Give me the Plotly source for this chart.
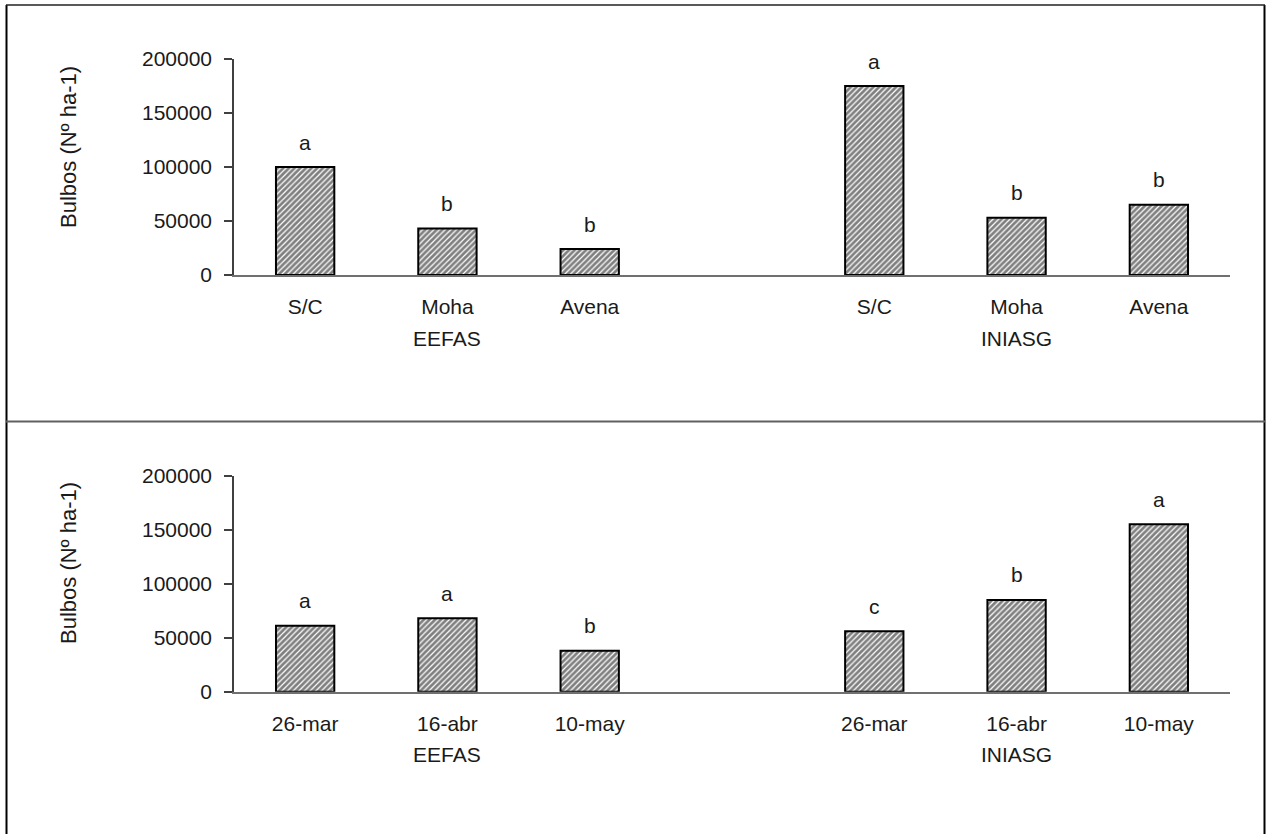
import plotly.graph_objects as go

# ---- data ----
top_labels = ["S/C", "Moha", "Avena", "S/C", "Moha", "Avena"]
top_values = [100000, 43000, 24000, 175000, 53000, 65000]
top_letters = ["a", "b", "b", "a", "b", "b"]

bot_labels = ["26-mar", "16-abr", "10-may", "26-mar", "16-abr", "10-may"]
bot_values = [61000, 68000, 38000, 56000, 85000, 155000]
bot_letters = ["a", "a", "b", "c", "b", "a"]

sites = ["EEFAS", "INIASG"]
site_positions = [1, 5]

# slot positions (one empty slot between the two sites)
positions = [0, 1, 2, 4, 5, 6]
y_ticks = [0, 50000, 100000, 150000, 200000]
y_title = "Bulbos (Nº ha-1)"

W, H = 1267, 834
FONT = "Liberation Sans, Arial, sans-serif"
FS = 21
TXT = "#1a1a1a"

def px_x(p):
    return p / W

def px_y(p):
    return 1 - p / H

fig = go.Figure()

bar_style = dict(
    marker=dict(
        color="white",
        line=dict(color="black", width=2),
        pattern=dict(shape="/", fgcolor="black", bgcolor="white", size=4, solidity=0.7),
    ),
    width=0.41,
    showlegend=False,
    hoverinfo="skip",
)

fig.add_trace(go.Bar(x=positions, y=top_values, xaxis="x", yaxis="y", **bar_style))
fig.add_trace(go.Bar(x=positions, y=bot_values, xaxis="x2", yaxis="y2", **bar_style))

xdom = [px_x(234), px_x(1230)]
axis_common_x = dict(
    range=[-0.5, 6.5],
    tickvals=positions,
    showline=True,
    linecolor="#707070",
    linewidth=2,
    ticks="",
    showgrid=False,
    zeroline=False,
    ticklabelstandoff=12,
    tickfont=dict(family=FONT, size=FS, color=TXT),
    domain=xdom,
    fixedrange=True,
    automargin=False,
)
axis_common_y = dict(
    range=[0, 200000],
    tickvals=y_ticks,
    ticktext=[str(v) for v in y_ticks],
    showline=True,
    linecolor="#404040",
    linewidth=1.5,
    ticks="outside",
    ticklen=8,
    tickcolor="#404040",
    tickwidth=1.5,
    ticklabelstandoff=8,
    showgrid=False,
    zeroline=False,
    tickfont=dict(family=FONT, size=FS, color=TXT),
    fixedrange=True,
    automargin=False,
)

fig.update_layout(
    xaxis=dict(ticktext=top_labels, anchor="y", **axis_common_x),
    yaxis=dict(domain=[px_y(275), px_y(59)], anchor="x", **axis_common_y),
    xaxis2=dict(ticktext=bot_labels, anchor="y2", **axis_common_x),
    yaxis2=dict(domain=[px_y(691.7), px_y(475.7)], anchor="x2", **axis_common_y),
)

annotations = []
for xr, yr, vals, letters in (("x", "y", top_values, top_letters), ("x2", "y2", bot_values, bot_letters)):
    for p, v, t in zip(positions, vals, letters):
        annotations.append(dict(x=p, y=v, xref=xr, yref=yr, text=t, showarrow=False,
                                yanchor="middle", yshift=25,
                                font=dict(family=FONT, size=FS, color=TXT)))
    for p, s in zip(site_positions, sites):
        annotations.append(dict(x=p, y=0, xref=xr, yref=yr, text=s, showarrow=False,
                                yanchor="middle", yshift=-63,
                                font=dict(family=FONT, size=FS, color=TXT)))
for cy in (147, 563):
    annotations.append(dict(x=px_x(68), y=px_y(cy), xref="paper", yref="paper",
                            text=y_title, textangle=-90, showarrow=False,
                            xanchor="center", yanchor="middle",
                            font=dict(family=FONT, size=22, color=TXT)))

shapes = [
    dict(type="line", xref="paper", yref="paper", x0=px_x(6.5), x1=px_x(6.5), y0=0, y1=px_y(5),
         line=dict(color="black", width=2)),
    dict(type="line", xref="paper", yref="paper", x0=px_x(1264.5), x1=px_x(1264.5), y0=0, y1=px_y(5),
         line=dict(color="black", width=2)),
    dict(type="line", xref="paper", yref="paper", x0=px_x(6), x1=px_x(1265), y0=px_y(5), y1=px_y(5),
         line=dict(color="#222222", width=1.5)),
    dict(type="line", xref="paper", yref="paper", x0=px_x(6), x1=px_x(1265), y0=px_y(421.5), y1=px_y(421.5),
         line=dict(color="#606060", width=2)),
]

fig.update_layout(
    width=W,
    height=H,
    autosize=False,
    margin=dict(l=0, r=0, t=0, b=0, pad=0),
    paper_bgcolor="white",
    plot_bgcolor="white",
    annotations=annotations,
    shapes=shapes,
    font=dict(family=FONT, size=FS, color=TXT),
)

fig.write_html(
    "out.html",
    config={"displayModeBar": False},
    post_script="document.body.style.margin='0';document.body.style.overflow='hidden';",
)
